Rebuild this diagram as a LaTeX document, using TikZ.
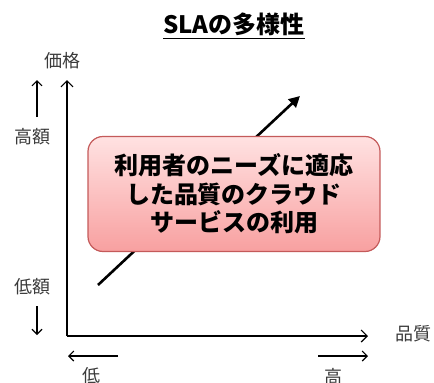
\documentclass[tikz,border=0pt]{standalone}
\usepackage{fontspec}
\setmainfont{Noto Sans CJK JP}
\newfontfamily\cjk{Noto Sans CJK JP}
\newfontfamily\cjkheavy{Noto Sans CJK JP Black}
\usetikzlibrary{arrows.meta}
\definecolor{lbl}{HTML}{3A3A3A}
\definecolor{boxtop}{HTML}{FFE2E2}
\definecolor{boxbot}{HTML}{F8A0A0}
\definecolor{boxline}{HTML}{C45A5A}
\tikzset{
  axis/.style={line width=1.3pt, -{Straight Barb[length=6pt,width=12pt,line width=1.2pt]}},
  minor/.style={line width=1.2pt, -{Straight Barb[length=5pt,width=10pt,line width=1.1pt]}},
  lab/.style={font=\cjk\fontsize{18}{20}\selectfont, text=lbl, inner sep=0pt},
  trend/.style={line width=2.6pt, -{Triangle[length=11pt,width=11pt]}},
  card/.style={rounded corners=15pt, draw=boxline, line width=1.2pt, top color=boxtop, bottom color=boxbot,
     minimum width=292pt, minimum height=115pt, inner sep=0pt, align=center,
     font=\cjkheavy\fontsize{24}{28.5}\selectfont}
}
\begin{document}
\begin{tikzpicture}[x=1pt,y=-1pt]
\useasboundingbox (0,0) rectangle (434,383);
% title
\node[font=\cjk\bfseries\fontsize{24}{26}\selectfont, inner sep=0pt] (title) at (234,24) {SLAの多様性};
\draw[line width=1.6pt] ([yshift=-3pt]title.south west) -- ([yshift=-3pt]title.south east);
% axes
\coordinate (o) at (67,336);
\coordinate (ytop) at (67,80);
\coordinate (xend) at (368,336);
\draw[axis] (o) -- (ytop);
\draw[axis] (o) -- (xend);
% axis labels
\node[lab] (kakaku) at (62,61) {価格};
\node[lab] (hinshitsu) at (413,334) {品質};
\node[lab] (kougaku) at (32,137) {高額};
\node[lab] (teigaku) at (32,287) {低額};
\node[lab] (tei) at (91,376) {低};
\node[lab] (kou) at (333,377) {高};
% small arrows
\coordinate (ua1) at (37,117);
\coordinate (ua2) at (37,80);
\draw[minor] (ua1) -- (ua2);
\coordinate (da1) at (37,306);
\coordinate (da2) at (37,335);
\draw[minor] (da1) -- (da2);
\coordinate (la1) at (118,356);
\coordinate (la2) at (68,356);
\draw[minor] (la1) -- (la2);
\coordinate (ra1) at (318,356);
\coordinate (ra2) at (368,356);
\draw[minor] (ra1) -- (ra2);
% trend line
\coordinate (t1) at (98,285);
\coordinate (t2) at (300,96);
\draw[trend] (t1) -- (t2);
% box
\node[card] (box) at (234,194) {利用者のニーズに適応\\した品質のクラウド\\サービスの利用};
\end{tikzpicture}
\end{document}
